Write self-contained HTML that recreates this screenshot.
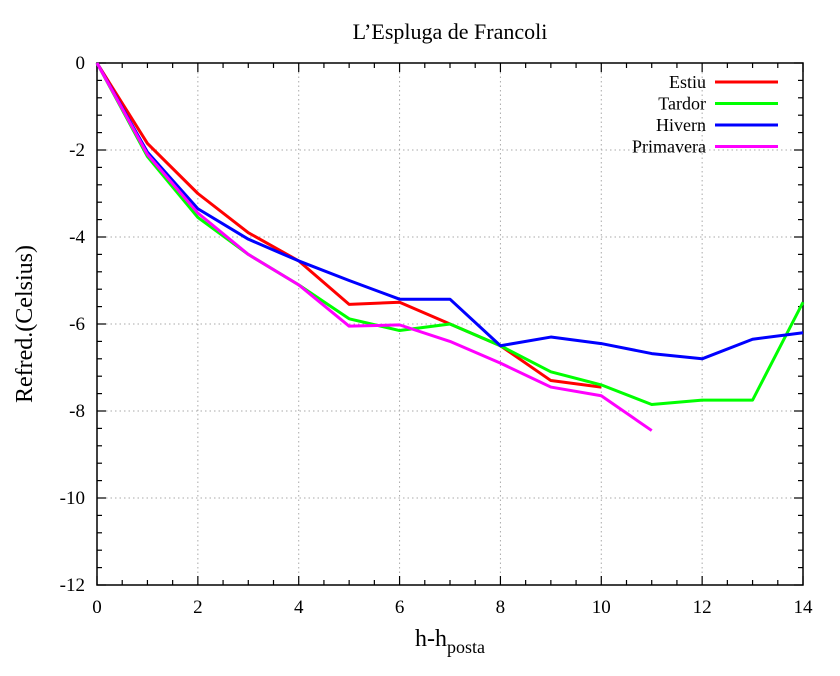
<!DOCTYPE html>
<html><head><meta charset="utf-8"><style>
body{margin:0;background:#fff}
svg text{font-family:"Liberation Serif",serif;fill:#000}
</style></head><body>
<svg id="chart" width="840" height="671" xmlns="http://www.w3.org/2000/svg">
<text x="450" y="39" font-size="22" text-anchor="middle">L’Espluga de Francoli</text>
<text x="450" y="646" font-size="24" text-anchor="middle">h-h<tspan font-size="18" dy="7">posta</tspan></text>
<text transform="translate(32,324) rotate(-90)" font-size="24" text-anchor="middle">Refred.(Celsius)</text>
<g id="grid"></g><g id="axes"></g><g id="series"></g><g id="legend"></g>
</svg>
<script>
const xTicks=[0,2,4,6,8,10,12,14];
const yTicks=[0,-2,-4,-6,-8,-10,-12];
const seriesNames=["Estiu","Tardor","Hivern","Primavera"];
const seriesColors=["#ff0000","#00ff00","#0000ff","#ff00ff"];
const estiu=[0,-1.85,-3.0,-3.9,-4.55,-5.55,-5.5,-6.0,-6.5,-7.3,-7.45];
const tardor=[0,-2.15,-3.55,-4.4,-5.1,-5.88,-6.15,-6.0,-6.5,-7.1,-7.4,-7.85,-7.75,-7.75,-5.5];
const hivern=[0,-2.05,-3.35,-4.05,-4.55,-5.0,-5.43,-5.43,-6.5,-6.3,-6.45,-6.68,-6.8,-6.35,-6.2];
const primavera=[0,-2.1,-3.45,-4.4,-5.1,-6.05,-6.02,-6.4,-6.9,-7.45,-7.65,-8.45];
const allSeries=[estiu,tardor,hivern,primavera];
const L=97,R=803,T=63,B=585;
const sx=v=>L+(v-0)/(14-0)*(R-L);
const sy=v=>T+(0-v)/(0-(-12))*(B-T);
const NS="http://www.w3.org/2000/svg";
function mk(tag,attrs,parent){const e=document.createElementNS(NS,tag);for(const k in attrs)e.setAttribute(k,attrs[k]);parent.appendChild(e);return e;}
const grid=document.getElementById('grid'),axes=document.getElementById('axes'),ser=document.getElementById('series'),leg=document.getElementById('legend');
xTicks.forEach(v=>{
 if(v>0&&v<14){const g=mk('line',{x1:sx(v),x2:sx(v),y1:T,y2:B,stroke:'#aaa','stroke-dasharray':'1.5,3'},grid);
 
 }
 const t=mk('text',{x:sx(v),y:B+28,'font-size':19,'text-anchor':'middle'},axes);t.textContent=v;
 
 
});
yTicks.forEach(v=>{
 if(v<0&&v>-12){const g=mk('line',{x1:L,x2:R,y1:sy(v),y2:sy(v),stroke:'#aaa','stroke-dasharray':'1.5,3'},grid);
 
 }
 const t=mk('text',{x:L-12,y:sy(v)+6,'font-size':19,'text-anchor':'end'},axes);t.textContent=v;
 
 
});
for(let v=0;v<=14.001;v+=0.5){const len=(v%2===0)?9:5;
 mk('line',{x1:sx(v),x2:sx(v),y1:B,y2:B-len,stroke:'#000','stroke-width':1.2},axes);
 mk('line',{x1:sx(v),x2:sx(v),y1:T,y2:T+len,stroke:'#000','stroke-width':1.2},axes);}
for(let v=0;v>=-12.001;v-=0.4){const major=Math.abs(v/2-Math.round(v/2))<1e-6;const len=major?9:5;
 mk('line',{x1:L,x2:L+len,y1:sy(v),y2:sy(v),stroke:'#000','stroke-width':1.2},axes);
 mk('line',{x1:R,x2:R-len,y1:sy(v),y2:sy(v),stroke:'#000','stroke-width':1.2},axes);}
const frame=mk('rect',{x:L,y:T,width:R-L,height:B-T,fill:'none',stroke:'#000','stroke-width':1.5},axes);


allSeries.forEach((d,i)=>{
 const p=mk('polyline',{points:d.map((v,j)=>sx(j)+','+sy(v)).join(' '),fill:'none',stroke:seriesColors[i],'stroke-width':3,'stroke-linejoin':'round'},ser);
 
 
 const ly=82+i*21.5;
 const t=mk('text',{x:706,y:ly+6,'font-size':18,'text-anchor':'end'},leg);t.textContent=seriesNames[i];
 
 
 const s=mk('line',{x1:715,x2:778,y1:ly,y2:ly,stroke:seriesColors[i],'stroke-width':3},leg);
 
 
});
</script>
</body></html>
